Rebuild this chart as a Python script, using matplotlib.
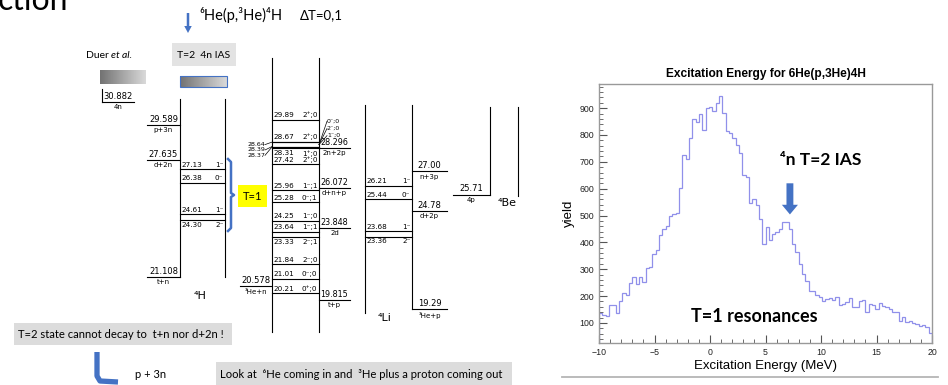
import numpy as np
import matplotlib.pyplot as plt
from matplotlib.patches import Rectangle

plt.rcParams['font.family'] = ['Lato', 'DejaVu Sans']

# ---- histogram: excitation energy for 6He(p,3He)4H, 0.3 MeV bins
edges = np.linspace(-10, 20, 101)
counts = [137, 130, 125, 166, 168, 135, 182, 212, 203, 250,
          272, 244, 272, 253, 304, 307, 357, 373, 429, 448,
          461, 500, 505, 511, 603, 725, 709, 788, 860, 847,
          877, 819, 900, 903, 890, 919, 947, 881, 815, 806,
          788, 763, 732, 651, 645, 545, 561, 538, 488, 392,
          456, 407, 432, 440, 450, 475, 475, 450, 392, 363,
          319, 282, 257, 217, 217, 203, 195, 180, 189, 192,
          186, 195, 167, 172, 176, 192, 160, 160, 182, 185,
          142, 170, 167, 151, 174, 164, 160, 153, 139, 139,
          107, 122, 105, 107, 101, 95, 89, 92, 85, 64]

# ---- level scheme data (MeV)
h4_levels = ['27.13', '26.38', '24.61', '24.30']
h4_jpi = ['1⁻', '0⁻', '1⁻', '2⁻']
h4_thr = ['29.589', '27.635', '21.108']
h4_thr_lbl = ['p+3n', 'd+2n', 't+n']

he4_levels = ['29.89', '28.67', '28.31', '27.42', '25.96', '25.28',
              '24.25', '23.64', '23.33', '21.84', '21.01', '20.21']
he4_jpi = ['2⁺;0', '2⁺;0', '1⁺;0', '2⁺;0', '1⁻;1', '0⁻;1',
           '1⁻;0', '1⁻;1', '2⁻;1', '2⁻;0', '0⁻;0', '0⁺;0']
he4_below = ['28.31', '23.33']
he4_band = ['28.64', '28.39', '28.37']
he4_fan = ['0⁻;0', '2⁻;0', '1⁻;0']
he4_thr = ['28.296', '26.072', '23.848', '19.815']
he4_thr_lbl = ['2n+2p', 'd+n+p', '2d', 't+p']
he4_thr_left = ['20.578']
he4_thr_left_lbl = ['³He+n']

li4_levels = ['26.21', '25.44', '23.68', '23.36']
li4_jpi = ['1⁻', '0⁻', '1⁻', '2⁻']
li4_thr = ['27.00', '24.78', '19.29']
li4_thr_lbl = ['n+3p', 'd+2p', '³He+p']

be4_thr = ['25.71']
be4_thr_lbl = ['4p']
duer_thr = ['30.882']
duer_lbl = ['4n']

blue = '#4472c4'
fig = plt.figure(figsize=(9.48, 3.85), dpi=100)

# pixel-space axes for slide decorations
ax0 = fig.add_axes([0, 0, 1, 1])
ax0.axis('off')

# level axes: x in layout units, y in MeV
lv = fig.add_axes([0, 0, 1, 1])
lv.set_xlim(0, 948)
lv.set_ylim(20.21 - 92 / 17.9, 20.21 + 293 / 17.9)
lv.axis('off')
lv.patch.set_alpha(0)

lfs = 5.2
lfam = ['DejaVu Sans']


def column(xl, xr, top, bottom_l, bottom_r, levels, jpi, below=()):
    lv.plot([xl, xl], [top, bottom_l], color='k', lw=0.8)
    lv.plot([xr, xr], [top, bottom_r], color='k', lw=0.8)
    for e, j in zip(levels, jpi):
        v = float(e)
        lv.plot([xl, xr], [v, v], color='k', lw=0.8)
        if e in below:
            ty, va = v - 0.1, 'top'
        else:
            ty, va = v + 0.07, 'bottom'
        lv.text(xl + 1.5, ty, e, fontsize=lfs, family=lfam, va=va, ha='left')
        lv.text(xr - 1.5, ty, j, fontsize=lfs, family=lfam, va=va, ha='right')


def thresholds(x0, x1, vals, lbls, fs=6):
    for e, lb in zip(vals, lbls):
        v = float(e)
        lv.plot([x0, x1], [v, v], color='k', lw=0.8)
        lv.text((x0 + x1) / 2, v + 0.07, e, fontsize=fs, family=lfam, ha='center', va='bottom')
        lv.text((x0 + x1) / 2, v - 0.12, lb, fontsize=5, family=lfam, ha='center', va='top')


# 4H
column(180, 225, 31.05, float(h4_thr[2]), 21.1, h4_levels, h4_jpi, below=('24.30',))
thresholds(147, 180, h4_thr, h4_thr_lbl)
# 4He
column(272, 319, 33.34, 18.05, 18.05, he4_levels, he4_jpi, below=he4_below)
for i, e in enumerate(he4_band):
    v = float(e)
    lv.plot([272, 319], [v, v], color='k', lw=0.8)
    ty = 28.5 - 0.3 * i
    lv.text(248, ty, e, fontsize=4.5, family=lfam, va='center', ha='left')
    lv.plot([265, 272], [ty, v], color='k', lw=0.5)
for i, j in enumerate(he4_fan):
    ty = 29.8 - 0.4 * i
    lv.text(327, ty, j, fontsize=4.5, family=lfam, va='center', ha='left')
    lv.plot([319, 327], [28.5, ty], color='k', lw=0.5)
thresholds(319, 350, he4_thr, he4_thr_lbl, fs=5.8)
thresholds(240, 272, he4_thr_left, he4_thr_left_lbl)
# 4Li
column(365, 412, 30.71, 19.09, float(li4_thr[2]), li4_levels, li4_jpi, below=('23.36',))
thresholds(412, 447, li4_thr, li4_thr_lbl)
# 4Be
column(490, 518, 30.6, float(be4_thr[0]), 25.63, [], [])
thresholds(453, 490, be4_thr, be4_thr_lbl)
# Duer et al. 4n
dv = float(duer_thr[0])
thresholds(102, 134, duer_thr, duer_lbl)
lv.plot([102, 102], [dv, dv + 0.75], color='k', lw=0.8)

# nucleus labels
ax0.text(200, 296, '⁴H', fontsize=8, family=lfam, ha='center', va='center')
ax0.text(385, 318, '⁴Li', fontsize=8, family=lfam, ha='center', va='center')
ax0.text(507, 203, '⁴Be', fontsize=8, family=lfam, ha='center', va='center')

# slide texts, boxes and arrows
ax0.text(-2, 10, 'ction', fontsize=23, va='baseline', ha='left')
ax0.arrow(188, 13, 0, 20, width=2.5, head_width=7.5, head_length=7,
          length_includes_head=True, color=blue, lw=0)
ax0.text(199, 15, '⁶He(p,³He)⁴H', fontsize=10.5, va='center', ha='left')
ax0.text(300, 15, 'ΔT=0,1', fontsize=9.5, va='center', ha='left')
ax0.text(86, 56, 'Duer ', fontsize=7.5, va='center', ha='left')
ax0.text(111, 56, 'et al.', fontsize=7.5, va='center', ha='left', style='italic')
ax0.add_patch(Rectangle((172, 43), 64, 23, facecolor='#e3e3e3', edgecolor='none'))
ax0.text(204, 55, 'T=2  4n IAS', fontsize=7.5, va='center', ha='center')

grad = np.linspace(0.45, 0.85, 64).reshape(1, -1)
ax0.imshow(grad, cmap='gray', vmin=0, vmax=1, extent=(100, 146, 84, 70), aspect='auto')
ax0.imshow(grad, cmap='gray', vmin=0, vmax=1, extent=(180, 227, 87, 76), aspect='auto')
ax0.add_patch(Rectangle((180, 76), 47, 11, facecolor='none', edgecolor=blue, lw=0.8))

ax0.plot([228, 231, 231, 234, 231, 231, 228], [159, 162, 193, 195, 197, 228, 231],
         color=blue, lw=1.8, solid_joinstyle='round')
ax0.add_patch(Rectangle((238, 185), 29, 22, facecolor='#ffff00', edgecolor='none'))
ax0.text(252.5, 196, 'T=1', fontsize=8, va='center', ha='center')

ax0.add_patch(Rectangle((14, 323), 218, 22, facecolor='#dcdcdc', edgecolor='none'))
ax0.text(18, 334, 'T=2 state cannot decay to  t+n nor d+2n !', fontsize=8.1,
         va='center', ha='left')
ax0.plot([97, 97, 100, 118], [352, 376, 381, 382], color=blue, lw=3.8,
         solid_capstyle='butt', solid_joinstyle='round')
ax0.text(135, 375, 'p + 3n', fontsize=8, va='center', ha='left')
ax0.add_patch(Rectangle((216, 362), 296, 23, facecolor='#dcdcdc', edgecolor='none'))
ax0.text(220, 374, 'Look at  ⁶He coming in and  ³He plus a proton coming out', fontsize=8.1,
         va='center', ha='left')
ax0.plot([562, 938], [377, 377], color='#b5b5b5', lw=1.3)
ax0.set_xlim(0, 948)
ax0.set_ylim(385, 0)

# ---- right: histogram
hfam = ['Liberation Sans', 'DejaVu Sans']
hx = fig.add_axes([599 / 948, 42 / 385, 333 / 948, 259 / 385])
hx.stairs(counts, edges, color='#9090ea', lw=0.9)
hx.set_xlim(-10, 20)
hx.set_ylim(25, 990)
hx.set_xticks(np.arange(-10, 21, 5))
hx.set_xticks(np.arange(-10, 21, 1), minor=True)
hx.set_yticks(np.arange(100, 901, 100))
hx.set_yticks(np.arange(40, 990, 20), minor=True)
hx.tick_params(which='both', direction='in', colors='#555555', labelcolor='#222222',
               labelsize=6.3, top=False, right=False)
hx.tick_params(which='major', length=6, width=0.8)
hx.tick_params(which='minor', length=3, width=0.6)
hx.set_xticklabels(['\u221210', '\u22125', '0', '5', '10', '15', '20'])
for lab in hx.get_xticklabels() + hx.get_yticklabels():
    lab.set_family(hfam)
for s in hx.spines.values():
    s.set_color('#999999')
    s.set_linewidth(1.0)
hx.set_title('Excitation Energy for 6He(p,3He)4H', fontsize=8.6, fontweight='bold',
             family=hfam, pad=5)
hx.set_xlabel('Excitation Energy (MeV)', fontsize=9.5, family=hfam, labelpad=2)
hx.set_ylabel('yield', fontsize=9.5, family=hfam, labelpad=3)

hx.arrow(7.2, 620, 0, -116, width=0.62, head_width=1.45, head_length=36,
         length_includes_head=True, color=blue, lw=0)
hx.text(10.0, 708, '⁴n T=2 IAS', fontsize=12.5, fontweight='bold', ha='center', va='center')
hx.text(4.0, 123, 'T=1 resonances', fontsize=13, fontweight='bold', ha='center', va='center')

fig.savefig('out.png', dpi=100, facecolor='white')
